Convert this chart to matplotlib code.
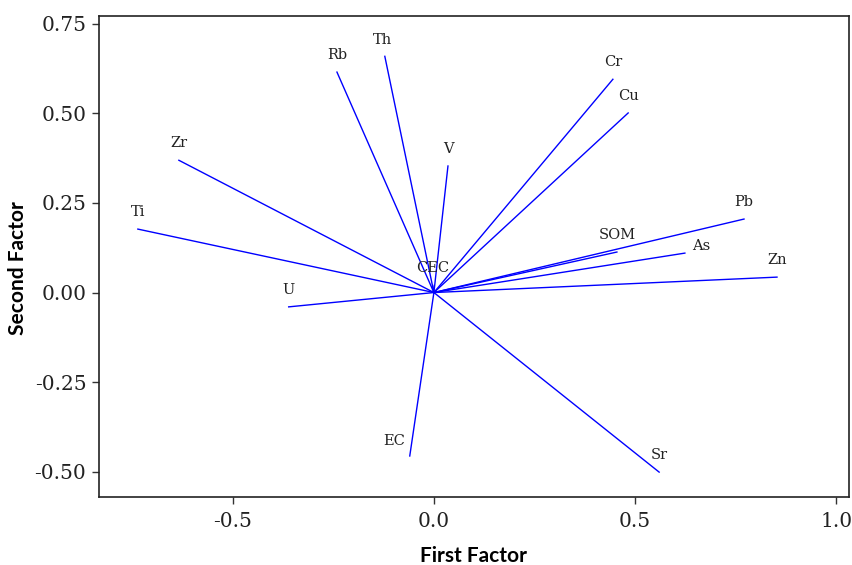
import matplotlib
matplotlib.use("Agg")
import matplotlib.pyplot as plt

# loadings (first factor, second factor)
variables = ["Rb", "Th", "V", "Cr", "Cu", "Zr", "Ti", "U", "CEC",
             "SOM", "Pb", "As", "Zn", "EC", "Sr"]
factor1 = [-0.241, -0.122, 0.035, 0.445, 0.483, -0.634, -0.736, -0.361, -0.003,
           0.455, 0.771, 0.624, 0.853, -0.060, 0.560]
factor2 = [0.615, 0.659, 0.353, 0.595, 0.501, 0.369, 0.177, -0.040, 0.020,
           0.113, 0.205, 0.110, 0.043, -0.456, -0.501]

xticks = [-0.5, 0.0, 0.5, 1.0]
yticks = [-0.50, -0.25, 0.00, 0.25, 0.50, 0.75]

# label offsets in points (most labels sit above the arrow tip)
offsets = {"As": (12, 5), "EC": (-11, 11), "Th": (-2, 12)}

fig = plt.figure(figsize=(8.52, 5.65), dpi=100)
ax = fig.add_axes([0.116, 0.12, 0.88, 0.852])

for name, x, y in zip(variables, factor1, factor2):
    ax.plot([0, x], [0, y], color="#0000ff", lw=1.0)
    dx, dy = offsets.get(name, (0, 12.5))
    ax.annotate(name, (x, y), xytext=(dx, dy), textcoords="offset points",
                ha="center", va="center", fontsize=10.5,
                family="DejaVu Serif", color="#222222")

ax.set_xlim(-0.833, 1.031)
ax.set_ylim(-0.571, 0.772)
ax.set_xticks(xticks)
ax.set_xticklabels([f"{t:.1f}" for t in xticks])
ax.set_yticks(yticks)
ax.set_yticklabels([f"{t:.2f}" for t in yticks])

for lab in ax.get_xticklabels() + ax.get_yticklabels():
    lab.set_family("DejaVu Serif")
    lab.set_fontsize(14.5)
    lab.set_color("#222222")

ax.tick_params(length=5, width=1, color="#333333", pad=4)
ax.tick_params(axis="x", pad=6)
for sp in ax.spines.values():
    sp.set_linewidth(1.2)
    sp.set_color("#222222")

ax.set_xlabel("First Factor", family="Lato", fontweight="bold", fontsize=15,
              va="center")
ax.set_ylabel("Second Factor", family="Lato", fontweight="bold", fontsize=15,
              va="center")
ax.xaxis.set_label_coords(0.5, -0.122)
ax.yaxis.set_label_coords(-0.108, 0.475)

fig.savefig("out.png", dpi=100)
